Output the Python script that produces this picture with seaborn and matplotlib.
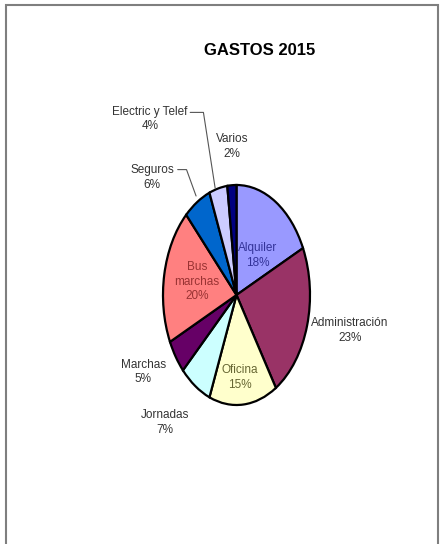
import matplotlib
matplotlib.use("Agg")
import matplotlib.pyplot as plt
import seaborn as sns
from matplotlib.patches import Rectangle

# Data (clockwise from 12 o'clock)
categorias = ["Alquiler", "Administración", "Oficina", "Jornadas", "Marchas",
              "Bus\nmarchas", "Seguros", "Electric y Telef", "Varios"]
porcentajes = [18, 23, 15, 7, 5, 20, 6, 4, 2]
colores = ["#9999FF", "#993366", "#FFFFCC", "#CCFFFF", "#660066",
           "#FF8080", "#0066CC", "#CCCCFF", "#000080"]

# label layout (data coords, pie radius = 1) and text colours
label_pos = [(0.29, 0.36), (1.54, -0.32), (0.05, -0.75), (-0.97, -1.16),
             (-1.27, -0.70), (-0.54, 0.12), (-1.15, 1.07), (-1.18, 1.60),
             (-0.06, 1.35)]
label_col = ["#333399", "#333333", "#666633", "#333333", "#333333",
             "#993333", "#333333", "#333333", "#333333"]

sns.set_theme(style="white")
plt.rcParams['font.family'] = ['Liberation Sans Narrow', 'Liberation Sans', 'DejaVu Sans']

fig = plt.figure(figsize=(4.42, 5.44), dpi=100)
ax = fig.add_axes([0, 0, 1, 1])

wedges, _ = ax.pie(porcentajes, colors=colores, startangle=90, counterclock=False,
                   wedgeprops=dict(edgecolor="black", linewidth=1.6))

# pixel box of the (elliptic) pie: centre (236.5, 295), half sizes 73.5 x 110
ax.set_xlim(-236.5 / 73.5, (442 - 236.5) / 73.5)
ax.set_ylim((295 - 544) / 110, 295 / 110)
ax.set_aspect("auto")
ax.axis("off")

for cat, pct, (x, y), c in zip(categorias, porcentajes, label_pos, label_col):
    ax.text(x, y, f"{cat}\n{pct}%", ha="center", va="center", fontsize=8.5,
            color=c, linespacing=1.3)

# leader lines
ax.plot([-0.63, -0.45, -0.29], [1.66, 1.66, 0.97], color="#555555", lw=0.8)
ax.plot([-0.80, -0.68, -0.55], [1.14, 1.14, 0.90], color="#555555", lw=0.8)

fig.text(0.588, 0.908, "GASTOS 2015", ha="center", va="center",
         fontsize=12, fontweight="bold", color="black",
         family=['Liberation Sans', 'DejaVu Sans'])

fig.patches.append(Rectangle((6 / 442, -0.01), 432 / 442, 1 - 5 / 544 + 0.01,
                             transform=fig.transFigure, fill=False,
                             edgecolor="#7f7f7f", linewidth=1.5))

fig.savefig("out.png", dpi=100)
